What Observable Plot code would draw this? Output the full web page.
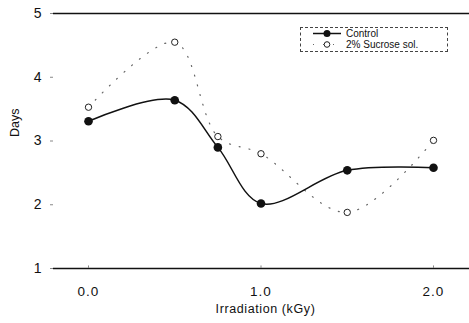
<!DOCTYPE html>
<html><head><meta charset="utf-8">
<script src="https://cdn.jsdelivr.net/npm/d3@7"></script>
<script src="https://cdn.jsdelivr.net/npm/@observablehq/plot@0.6"></script>
<style>
body{margin:0;background:#fff;font-family:"Liberation Sans",Arial,sans-serif;}
#wrap{position:relative;width:469px;height:323px;}
#legend{position:absolute;left:300px;top:27px;width:146px;height:23px;border:1px dashed #444;font-size:10px;color:#111;}
#legend .row{position:absolute;left:0;height:11px;line-height:11px;}
#legend svg{position:absolute;left:12px;top:0;}
#legend span{position:absolute;left:45px;top:0;white-space:nowrap;line-height:11px;}
</style></head>
<body><div id="wrap"></div>
<script>
const doses = [0, 0.5, 0.75, 1.0, 1.5, 2.0];
const control = [3.31, 3.64, 2.90, 2.02, 2.54, 2.58];
const sucrose = [3.53, 4.55, 3.07, 2.80, 1.88, 3.01];
const xTicks = [0, 1, 2];
const xTickLabels = ["0.0", "1.0", "2.0"];
const yTicks = [1, 2, 3, 4, 5];
const seriesNames = ["Control", "2% Sucrose sol."];

const ctrl = doses.map((d, i) => ({x: d, y: control[i]}));
const sucr = doses.map((d, i) => ({x: d, y: sucrose[i]}));

const chart = Plot.plot({
  width: 469, height: 323,
  marginLeft: 53, marginRight: 0, marginTop: 13, marginBottom: 55,
  style: {fontFamily: '"Liberation Sans", Arial, sans-serif', background: "#fff", color: "#111"},
  x: {domain: [-35/172.5, 381/172.5]},
  y: {domain: [1, 5]},
  marks: [
    Plot.ruleY([1, 5], {stroke: "#111", strokeWidth: 1.3}),
    Plot.ruleX(xTicks, {y1: 1, y2: 1.04, stroke: "#888"}),
    Plot.axisY({ticks: yTicks, tickFormat: d => String(d), tickSize: 3, tickPadding: 9, fontSize: 14, label: null, stroke: "#888"}),
    Plot.axisX({ticks: xTicks, tickFormat: d => xTickLabels[xTicks.indexOf(d)], tickSize: 0, tickPadding: 18, fontSize: 13.5, label: null}),
    Plot.text(["Days"], {frameAnchor: "left", dx: -39, dy: -4, rotate: -90, fontSize: 12.5, fill: "#111"}),
    Plot.text(["Irradiation (kGy)"], {frameAnchor: "bottom", dx: 4, dy: 44, fontSize: 12.5, fill: "#111"}),
    Plot.line(sucr, {x: "x", y: "y", curve: "catmull-rom", stroke: "#666", strokeWidth: 1.2, strokeDasharray: "1 9"}),
    Plot.line(ctrl, {x: "x", y: "y", curve: "catmull-rom", stroke: "#111", strokeWidth: 1.5}),
    Plot.dot(sucr, {x: "x", y: "y", r: 3.2, stroke: "#222", strokeWidth: 1, fill: "#fff"}),
    Plot.dot(ctrl, {x: "x", y: "y", r: 4.3, fill: "#111", stroke: "none"})
  ]
});
chart.querySelectorAll('[aria-label="x-axis tick label"] text').forEach(t => t.style.letterSpacing = "1px");
chart.querySelectorAll('text').forEach(t => { if (t.textContent === "Irradiation (kGy)") t.style.letterSpacing = "0.6px"; });
const wrap = document.getElementById("wrap");
wrap.appendChild(chart);

const legend = document.createElement("div");
legend.id = "legend";
legend.innerHTML = `
<div class="row" style="top:0px;width:146px"><svg width="30" height="11"><line x1="0" y1="5.5" x2="28" y2="5.5" stroke="#111" stroke-width="1.5"/><circle cx="14" cy="5.5" r="3.5" fill="#111"/></svg><span>${seriesNames[0]}</span></div>
<div class="row" style="top:11px;width:146px"><svg width="30" height="11"><line x1="0" y1="5.5" x2="28" y2="5.5" stroke="#666" stroke-dasharray="1 9" stroke-width="1.2"/><circle cx="14" cy="5.5" r="2.8" fill="#fff" stroke="#222"/></svg><span>${seriesNames[1]}</span></div>`;
wrap.appendChild(legend);
</script>
</body></html>
